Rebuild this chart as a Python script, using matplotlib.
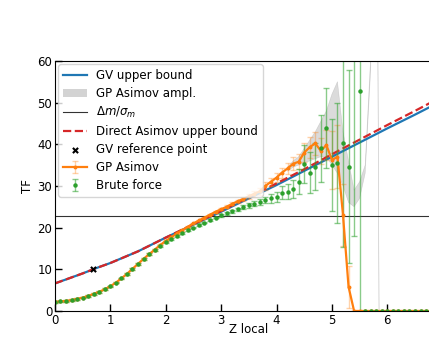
"""Test-statistic bounds vs local significance: GV bound, GP Asimov and brute force."""

import matplotlib.pyplot as plt
import numpy as np
from matplotlib.patches import Patch

# smooth bound curves
z_bound = [0.0, 0.25, 0.5, 0.75, 1.0, 1.5, 2.0, 2.5, 3.0, 3.5, 4.0, 4.5, 5.0, 5.5, 6.0, 6.5, 7.0]
gv_upper = [6.6, 7.8, 9.0, 10.3, 11.5, 14.3, 17.6, 20.7, 23.8, 27.0, 30.2, 33.6, 37.0, 40.4, 43.8, 47.1, 50.5]
direct_asimov = [6.6, 7.8, 9.0, 10.3, 11.5, 14.3, 17.6, 20.8, 24.0, 27.3, 30.6, 34.0, 37.6, 41.1, 44.6, 48.0, 51.5]

dm_over_sigma = 22.7
gv_ref_z, gv_ref_tf = 0.68, 10.0

# scan points, step 0.1 from 0 to 6.9
z_scan = np.round(np.arange(0, 7.0, 0.1), 1)

brute_force = [
    2.2, 2.3, 2.4, 2.6, 2.9, 3.2, 3.6, 4.1, 4.6, 5.2,
    5.9, 6.8, 7.8, 8.9, 10.1, 11.3, 12.5, 13.6, 14.6, 15.6,
    16.5, 17.3, 18.0, 18.7, 19.4, 20.0, 20.6, 21.2, 21.8, 22.4,
    22.9, 23.4, 23.9, 24.4, 24.9, 25.3, 25.7, 26.1, 26.6, 27.0,
    27.4, 28.4, 28.6, 29.2, 31.0, 35.2, 33.2, 34.6, 39.0, 43.8,
    35.0, 35.5, 40.3, 34.6, 62.0, 52.8,
] + [0.0] * 14
brute_force_err = [0.2] * 30 + [
    0.3, 0.3, 0.4, 0.4, 0.5, 0.5, 0.6, 0.7, 0.8, 1.0,
    1.2, 1.5, 1.8, 2.2, 3.0, 4.5, 5.0, 5.6, 8.0, 9.6,
    11.0, 14.5, 25.0, 23.2, 44.0, 52.8,
] + [0.0] * 14

gp_asimov = [
    2.2, 2.3, 2.4, 2.6, 2.9, 3.2, 3.6, 4.1, 4.6, 5.2,
    5.9, 6.8, 7.8, 8.9, 10.1, 11.3, 12.5, 13.6, 14.7, 15.8,
    16.8, 17.7, 18.6, 19.4, 20.2, 21.0, 21.7, 22.4, 23.1, 23.8,
    24.4, 25.0, 25.7, 26.3, 26.9, 27.5, 28.1, 28.7, 30.0, 31.0,
    32.0, 33.2, 34.2, 35.3, 35.8, 38.0, 39.3, 40.2, 38.4, 39.8,
    36.2, 37.0, 23.0, 5.8,
] + [0.0] * 16
gp_asimov_err = [0.2] * 30 + [
    0.3, 0.3, 0.4, 0.4, 0.5, 0.6, 0.7, 0.8, 0.9, 1.0,
    1.1, 1.2, 1.4, 1.6, 1.8, 2.2, 2.5, 2.8, 3.2, 3.6,
    7.0, 7.5, 7.5, 5.0,
] + [0.0] * 16

# GP Asimov amplitude band
z_band = [4.2, 4.3, 4.4, 4.5, 4.6, 4.7, 4.8, 4.9, 5.0, 5.1,
          5.2, 5.3, 5.4, 5.5, 5.6, 5.7, 5.8, 5.9, 6.0]
band_low = [33.5, 34.5, 35.0, 35.5, 36.0, 36.5, 37.0, 37.0, 35.0, 33.0,
            30.0, 26.0, 25.0, 27.0, 33.0, 58.0, 150.0, -150.0, -3.0]
band_high = [34.5, 36.0, 37.0, 39.0, 41.0, 43.0, 45.5, 48.0, 52.0, 55.0,
             43.0, 36.0, 29.0, 31.0, 35.0, 61.0, 153.0, -147.0, 0.0]

plt.rcParams["font.size"] = 8.5

fig = plt.figure(figsize=(4.29, 3.38), dpi=100)
ax = fig.add_axes([0.128, 0.080, 0.904, 0.740])

(h_gv,) = ax.plot(z_bound, gv_upper, color="tab:blue", lw=1.6, label="GV upper bound")
ax.fill_between(z_band, band_low, band_high, color="grey", alpha=0.28, lw=0.4)
h_band = Patch(facecolor="lightgrey", edgecolor="none", label="GP Asimov ampl.")
h_dm = ax.axhline(dm_over_sigma, color="k", lw=0.8, alpha=0.8, label=r"$\Delta m/\sigma_m$")
(h_direct,) = ax.plot(z_bound, direct_asimov, color="tab:red", ls="--", lw=1.6,
                      label="Direct Asimov upper bound")
h_ref = ax.scatter([gv_ref_z], [gv_ref_tf], marker="x", color="k", s=14, lw=1.5,
                   zorder=5, label="GV reference point")

h_gp = ax.errorbar(z_scan, gp_asimov, yerr=gp_asimov_err, color="tab:orange", lw=1.6,
                   marker="o", ms=1.8, ecolor=(1.0, 0.5, 0.05, 0.35), elinewidth=1,
                   capsize=2, label="GP Asimov")
h_bf = ax.errorbar(z_scan, brute_force, yerr=brute_force_err, color="tab:green", ls="none",
                   marker="o", ms=2.2, ecolor=(0.17, 0.63, 0.17, 0.55), elinewidth=1,
                   capsize=2, label="Brute force")

ax.set_xlim(0, 7)
ax.set_ylim(0, 60)
ax.set_xticks(range(0, 7))
ax.set_yticks(range(0, 61, 10))
ax.tick_params(direction="in", length=5, width=1, pad=2)
ax.set_xlabel("Z local", labelpad=-3)
ax.set_ylabel("TF", labelpad=2)

ax.legend(handles=[h_gv, h_band, h_dm, h_direct, h_ref, h_gp, h_bf],
          loc="upper left", borderaxespad=0.3, fontsize=8.5, labelspacing=0.42)

fig.savefig("out.png", dpi=100)
